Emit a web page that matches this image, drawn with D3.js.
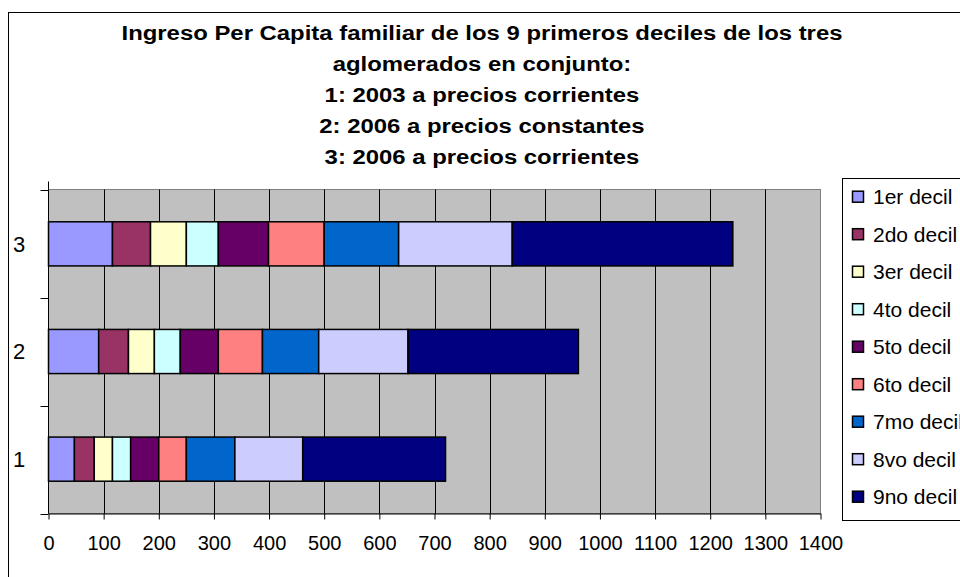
<!DOCTYPE html>
<html><head><meta charset="utf-8">
<script src="https://cdn.jsdelivr.net/npm/d3@7"></script>
<style>body{margin:0;background:#fff;}svg{display:block;font-family:"Liberation Sans",Arial,sans-serif;}</style>
</head><body>
<svg id="c" width="960" height="577"></svg>
<script>
const categories = ["1","2","3"];
const series = ["1er decil","2do decil","3er decil","4to decil","5to decil","6to decil","7mo decil","8vo decil","9no decil"];
const colors = ["#9999FF","#993366","#FFFFCC","#CCFFFF","#660066","#FF8080","#0066CC","#CCCCFF","#000080"];
const values1 = [47, 36, 33, 33, 51, 50, 88, 123, 259];
const values2 = [91, 54, 47, 47, 69, 80, 102, 162, 309];
const values3 = [116, 69, 65, 58, 91, 101, 135, 206, 400];
const xTicks = d3.range(0, 1401, 100);
const titleLines = ["Ingreso Per Capita familiar de los 9 primeros deciles de los tres","aglomerados en conjunto:","1: 2003 a precios corrientes","2: 2006 a precios constantes","3: 2006 a precios corrientes"];

const svg = d3.select("#c");
svg.append("rect").attr("x",8.5).attr("y",12.5).attr("width",1000).attr("height",700)
  .attr("fill","#fff").attr("stroke","#000").attr("stroke-width",1);

const L=48.5, R=820.5, T=189.5, B=513.5;
const x = d3.scaleLinear().domain([0,1400]).range([L,R]);
const y = d3.scaleBand().domain(categories.slice().reverse()).range([T,B]).paddingInner(0.59).paddingOuter(0.3);

svg.append("rect").attr("x",L).attr("y",T).attr("width",R-L).attr("height",B-T).attr("fill","#C0C0C0").attr("stroke","#808080");
svg.append("g").selectAll("line").data(xTicks.slice(1,-1)).join("line")
  .attr("x1",d=>Math.round(x(d))+0.5).attr("x2",d=>Math.round(x(d))+0.5).attr("y1",T).attr("y2",B)
  .attr("stroke","#000").attr("stroke-width",1);

const data = [values1, values2, values3];
const rows = categories.map((c,i)=>{let acc=0; return data[i].map((v,j)=>{const s=acc; acc+=v; return {cat:c,j,x0:s,x1:acc};});});
const bars = svg.append("g");
rows.forEach(r=>{
  bars.selectAll(null).data(r).join("rect")
    .attr("x",d=>x(d.x0)).attr("width",d=>x(d.x1)-x(d.x0))
    .attr("y",d=>y(d.cat)).attr("height",y.bandwidth())
    .attr("fill",d=>colors[d.j]).attr("stroke","#000").attr("stroke-width",1.5);
});

const xa = svg.append("g").attr("transform",`translate(0,${B})`)
  .call(d3.axisBottom(x).tickValues(xTicks).tickSize(6).tickSizeOuter(0).tickPadding(16).tickFormat(d3.format("d")));
xa.select(".domain").attr("stroke","#000");
xa.selectAll("text").attr("font-size",20).attr("fill","#000").attr("font-family","Liberation Sans, Arial, sans-serif");
const yTicksPos = [T, (T*2+B)/3, (T+B*2)/3, B];
svg.append("line").attr("x1",L).attr("x2",L).attr("y1",T-8).attr("y2",B).attr("stroke","#000");
svg.append("g").selectAll("line").data(yTicksPos).join("line")
  .attr("x1",L-8).attr("x2",L).attr("y1",d=>Math.round(d)+0.5).attr("y2",d=>Math.round(d)+0.5).attr("stroke","#000");
svg.append("g").selectAll("text").data(categories).join("text")
  .attr("x",19).attr("y",d=>y(d)+y.bandwidth()/2).attr("dy","0.36em").attr("text-anchor","middle")
  .attr("font-size",22).text(d=>d);

const tg = svg.append("g");
const tt = tg.selectAll("text").data(titleLines).join("text")
  .attr("x",482).attr("y",(d,i)=>40+i*31).attr("text-anchor","middle")
  .attr("font-size",20).attr("font-weight","bold").text(d=>d);
const w0 = tt.node().getComputedTextLength();
const sx = 721/w0;
tt.each(function(){const w=this.getComputedTextLength(); d3.select(this).attr("textLength",w*sx).attr("lengthAdjust","spacingAndGlyphs");});

svg.append("rect").attr("x",842.5).attr("y",178.5).attr("width",200).attr("height",342).attr("fill","#fff").attr("stroke","#000");
const lg = svg.append("g").selectAll("g").data(series).join("g").attr("transform",(d,i)=>`translate(0,${196.7+i*37.5})`);
lg.append("rect").attr("x",852.5).attr("y",-5.5).attr("width",11).attr("height",11).attr("fill",(d,i)=>colors[i]).attr("stroke","#000").attr("stroke-width",1.5);
lg.append("text").attr("x",873).attr("y",0).attr("dy","0.36em").attr("font-size",21).text(d=>d);
</script>
</body></html>
